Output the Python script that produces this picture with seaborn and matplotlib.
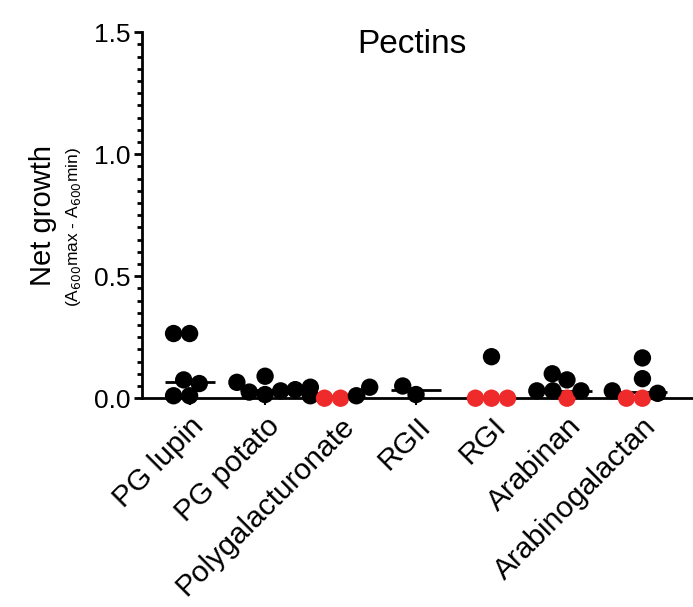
import numpy as np
import pandas as pd
import seaborn as sns
import matplotlib
matplotlib.use("Agg")
import matplotlib.pyplot as plt
from matplotlib.ticker import MultipleLocator

# ---- data ----
categories = ["PG lupin", "PG potato", "Polygalacturonate", "RGII", "RGI",
              "Arabinan", "Arabinogalactan"]
pg_lupin = [0.01, 0.265, 0.06, 0.265, 0.075, 0.01]
pg_potato = [0.025, 0.065, 0.03, 0.035, 0.09, 0.015]
polygalacturonate = [0.0, 0.045, 0.01, 0.045, 0.0, 0.01]
rgii = [0.015, 0.05]
rgi = [0.0, 0.17, 0.0, 0.0]
arabinan = [0.0, 0.075, 0.03, 0.1, 0.03, 0.03]
arabinogalactan = [0.0, 0.08, 0.03, 0.165, 0.0, 0.02]
# points flagged as "no growth" (drawn red)
no_growth = {
    "Polygalacturonate": [True, False, False, False, True, False],
    "RGI": [True, False, True, True],
    "Arabinan": [True, False, False, False, False, False],
    "Arabinogalactan": [True, False, False, False, True, False],
}
series = [pg_lupin, pg_potato, polygalacturonate, rgii, rgi, arabinan, arabinogalactan]

rows = []
for cat, vals in zip(categories, series):
    flags = no_growth.get(cat, [False] * len(vals))
    for v, f in zip(vals, flags):
        rows.append({"cat": cat, "value": v, "status": "none" if f else "growth"})
df = pd.DataFrame(rows)

sns.set_style("ticks")
plt.rcParams["font.family"] = ["Liberation Sans", "DejaVu Sans"]
plt.rcParams.update({"text.color": "black", "axes.labelcolor": "black",
                     "xtick.color": "black", "ytick.color": "black",
                     "axes.edgecolor": "black"})

fig = plt.figure(figsize=(6.93, 6.07), dpi=100)
ax = fig.add_axes([0.205, 0.344, 0.795, 0.603])

# median lines
sns.boxplot(data=df, x="cat", y="value", order=categories, ax=ax,
            width=0.66, showbox=False, showcaps=False, showfliers=False,
            whiskerprops={"visible": False},
            medianprops={"color": "black", "linewidth": 2, "zorder": 1})

# swarm layout computed with a tighter spacing (GraphPad-like overlap)
sns.swarmplot(data=df, x="cat", y="value", order=categories, hue="status",
              palette={"growth": "black", "none": "#EE2A2A"}, size=11,
              legend=False, ax=ax, zorder=3, warn_thresh=1.0)

ax.set_ylim(0, 1.5)
ax.set_xlim(-0.63, 6.67)
ax.yaxis.set_minor_locator(MultipleLocator(0.05))
ax.set_yticks([0, 0.5, 1.0, 1.5])
ax.set_yticklabels(["0.0", "0.5", "1.0", "1.5"], fontsize=19)
ax.tick_params(axis="y", which="major", length=6, width=2, direction="out", pad=2)
ax.tick_params(axis="y", which="minor", length=3.5, width=2)
ax.tick_params(axis="x", length=5, width=1.5, pad=5)
ax.set_xticks(range(len(categories)))
ax.set_xticklabels(categories, rotation=45, ha="right", rotation_mode="anchor",
                   fontsize=21.5)
ax.set_xlabel("")
ax.set_ylabel("")
for s in ["top", "right"]:
    ax.spines[s].set_visible(False)
ax.spines["left"].set_linewidth(2)
ax.spines["bottom"].set_linewidth(2)
ax.spines["left"].set_zorder(5)
ax.spines["bottom"].set_zorder(0)

ax.set_title("Pectins", fontsize=24, x=0.49, y=0.92, color="black")

fig.text(0.062, 0.645, "Net growth", rotation=90, ha="center", va="center",
         fontsize=21, color="black")
fig.text(0.106, 0.625, r"(A$_{600}$max - A$_{600}$min)", rotation=90,
         ha="center", va="center", fontsize=12.5, color="black")

# freeze the swarm positions, then enlarge the markers
fig.canvas.draw()
for coll in ax.collections:
    if "draw" in coll.__dict__:
        del coll.__dict__["draw"]
    coll.set_sizes([12.5 ** 2])
    coll.set_clip_on(False)

fig.savefig("out.png", dpi=100)
